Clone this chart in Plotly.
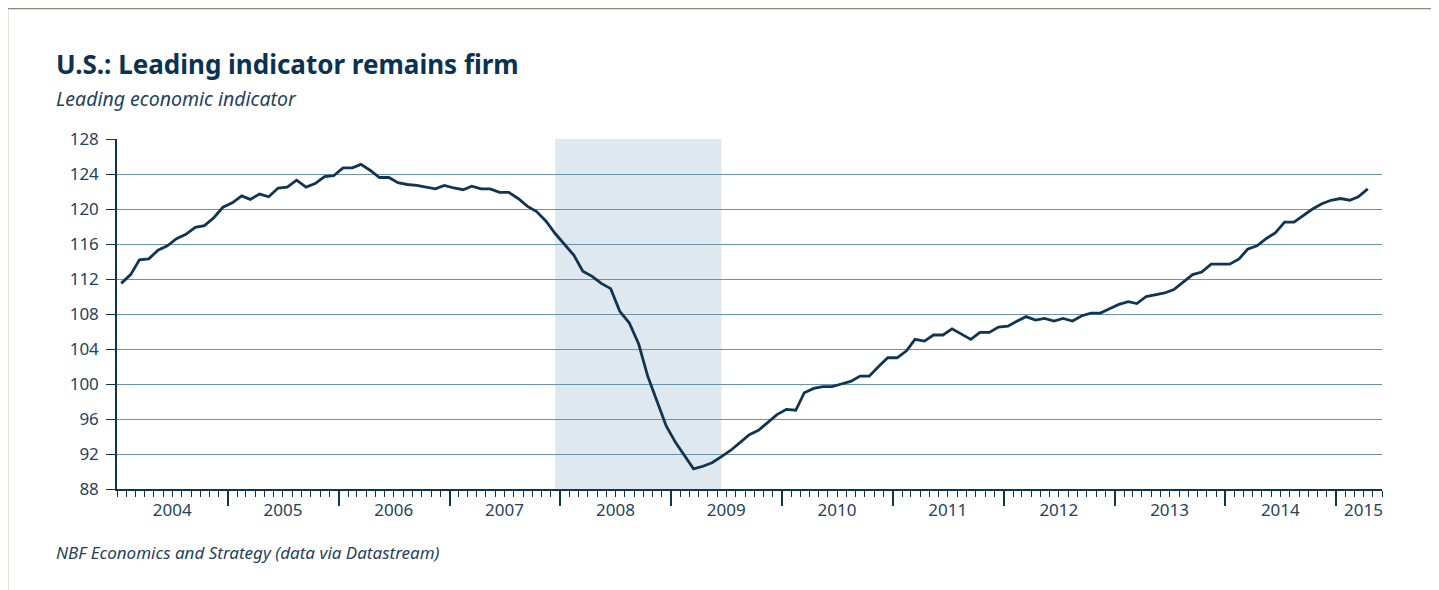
import pandas as pd
import plotly.graph_objects as go

# ---------------- data ----------------
start_month = "2004-01"
lei_2004 = [111.5, 112.5, 114.2, 114.3, 115.3, 115.8, 116.6, 117.1, 117.9, 118.1, 119.0, 120.2]
lei_2005 = [120.7, 121.5, 121.1, 121.7, 121.4, 122.4, 122.5, 123.3, 122.5, 122.9, 123.7, 123.8]
lei_2006 = [124.7, 124.7, 125.1, 124.4, 123.6, 123.6, 123.0, 122.8, 122.7, 122.5, 122.3, 122.7]
lei_2007 = [122.4, 122.2, 122.6, 122.3, 122.3, 121.9, 121.9, 121.2, 120.3, 119.7, 118.6, 117.2]
lei_2008 = [115.9, 114.7, 112.9, 112.3, 111.5, 110.9, 108.3, 107.0, 104.6, 100.9, 98.0, 95.2]
lei_2009 = [93.3, 91.8, 90.3, 90.6, 91.0, 91.7, 92.4, 93.3, 94.2, 94.7, 95.6, 96.5]
lei_2010 = [97.1, 97.0, 99.0, 99.5, 99.7, 99.7, 100.0, 100.3, 100.9, 100.9, 102.0, 103.0]
lei_2011 = [103.0, 103.8, 105.1, 104.9, 105.6, 105.6, 106.3, 105.7, 105.1, 105.9, 105.9, 106.5]
lei_2012 = [106.6, 107.2, 107.7, 107.3, 107.5, 107.2, 107.5, 107.2, 107.8, 108.1, 108.1, 108.6]
lei_2013 = [109.1, 109.4, 109.2, 110.0, 110.2, 110.4, 110.8, 111.6, 112.5, 112.8, 113.7, 113.7]
lei_2014 = [113.7, 114.3, 115.4, 115.8, 116.6, 117.3, 118.5, 118.5, 119.3, 120.0, 120.6, 121.0]
lei_2015 = [121.2, 121.0, 121.4, 122.3]

lei = (lei_2004 + lei_2005 + lei_2006 + lei_2007 + lei_2008 + lei_2009 + lei_2010
       + lei_2011 + lei_2012 + lei_2013 + lei_2014 + lei_2015)

recession_start = "2007-12"
recession_end = "2009-06"

years = ["2004", "2005", "2006", "2007", "2008", "2009", "2010",
         "2011", "2012", "2013", "2014", "2015"]
y_ticks = [88, 92, 96, 100, 104, 108, 112, 116, 120, 124, 128]

title = "U.S.: Leading indicator remains firm"
subtitle = "Leading economic indicator"
source = "NBF Economics and Strategy (data via Datastream)"

# ---------------- derived ----------------
month_starts = pd.date_range(start_month + "-01", periods=len(lei), freq="MS")
x_mid = month_starts + pd.Timedelta(days=14)
x_range = ["2004-01-01", "2015-06-01"]
year_bounds = [f"{y}-01-01" for y in years[1:]]
label_pos = [f"{y}-07-01" for y in years[:-1]] + ["2015-04-01"]

NAVY = "#0f3550"
TXT = "#1f4260"
GRID = "#6a93b0"
FONT = "Noto Sans"

fig = go.Figure()
fig.add_trace(go.Scatter(
    x=x_mid, y=lei, mode="lines",
    line=dict(color=NAVY, width=2.8),
    xaxis="x", yaxis="y", showlegend=False, hoverinfo="x+y",
))
# invisible helper traces to activate label axis and grid axis
fig.add_trace(go.Scatter(x=[x_mid[0]], y=[lei[0]], mode="markers",
                         marker=dict(opacity=0), xaxis="x2", yaxis="y",
                         showlegend=False, hoverinfo="skip"))
fig.add_trace(go.Scatter(x=[x_mid[0]], y=[lei[0]], mode="markers",
                         marker=dict(opacity=0), xaxis="x", yaxis="y2",
                         showlegend=False, hoverinfo="skip"))

rec_x0 = pd.Timestamp(recession_start + "-01") + pd.Timedelta(days=14)
rec_x1 = pd.Timestamp(recession_end + "-01") + pd.Timedelta(days=14)

# page has an 8px body margin; geometry below is in page pixels
OFF = 8
W, H = 1439 - OFF, 590 - OFF
L, T = 117 - OFF, 139 - OFF
R = W - (1382 - OFF)
B = H - (489 - OFF)
pw, ph = W - L - R, H - T - B
def px(xp):
    return (xp - OFF - L) / pw
def py(yp):
    return (H - B - (yp - OFF)) / ph

shapes = [
    dict(type="rect", xref="x", yref="paper", x0=rec_x0, x1=rec_x1, y0=0, y1=1,
         fillcolor="#dfe7ef", line=dict(width=0), layer="below"),
    # page frame
    dict(type="line", xref="paper", yref="paper", x0=px(7), x1=px(1439), y0=py(8.5), y1=py(8.5),
         line=dict(color="#8c8a76", width=1.5)),
    dict(type="line", xref="paper", yref="paper", x0=px(7.5), x1=px(7.5), y0=py(8), y1=py(590),
         line=dict(color="#8c8a76", width=1.5)),
]

annotations = [
    dict(text=f"<b>{title}</b>", xref="paper", yref="paper", x=px(54), y=py(64),
         xanchor="left", yanchor="middle", showarrow=False,
         font=dict(family=FONT, size=26, color="#0b3250")),
    dict(text=f"<i>{subtitle}</i>", xref="paper", yref="paper", x=px(54), y=py(99),
         xanchor="left", yanchor="middle", showarrow=False,
         font=dict(family=FONT, size=19.5, color=TXT)),
    dict(text=f"<i>{source}</i>", xref="paper", yref="paper", x=px(54), y=py(552),
         xanchor="left", yanchor="middle", showarrow=False,
         font=dict(family=FONT, size=17, color=TXT)),
]

fig.update_layout(
    width=W, height=H,
    margin=dict(l=L, r=R, t=T, b=B, pad=0),
    paper_bgcolor="white", plot_bgcolor="white",
    shapes=shapes, annotations=annotations,
    showlegend=False,
    xaxis=dict(
        type="date", range=x_range,
        tickmode="array", tickvals=year_bounds, ticktext=["" for _ in year_bounds],
        ticks="outside", ticklen=15, tickwidth=1.5, tickcolor=NAVY,
        showline=True, linecolor=NAVY, linewidth=1.5,
        showgrid=False, zeroline=False,
        minor=dict(dtick="M1", tick0="2004-01-01", ticks="outside", ticklen=6,
                   tickwidth=1, tickcolor=NAVY, showgrid=False),
    ),
    xaxis2=dict(
        type="date", overlaying="x", matches="x", side="bottom", anchor="y",
        tickmode="array", tickvals=label_pos, ticktext=years,
        ticks="outside", ticklen=6, tickcolor="rgba(0,0,0,0)",
        showline=False, showgrid=False, zeroline=False,
        tickfont=dict(family=FONT, size=17, color=TXT),
    ),
    yaxis=dict(
        range=[88, 128], tickmode="array", tickvals=y_ticks,
        ticks="outside", ticklen=9, tickwidth=1.3, tickcolor=NAVY,
        showline=True, linecolor=NAVY, linewidth=1.5,
        showgrid=False, zeroline=False,
        tickfont=dict(family=FONT, size=17, color=TXT),
        ticklabelstandoff=4,
    ),
    yaxis2=dict(
        range=[88, 128], overlaying="y", matches="y", anchor="x",
        tickmode="array", tickvals=y_ticks[1:-1], showticklabels=False,
        ticks="", showline=False, showgrid=True, gridcolor=GRID, gridwidth=1.2,
        zeroline=False,
    ),
)

fig.write_html("out.html")
